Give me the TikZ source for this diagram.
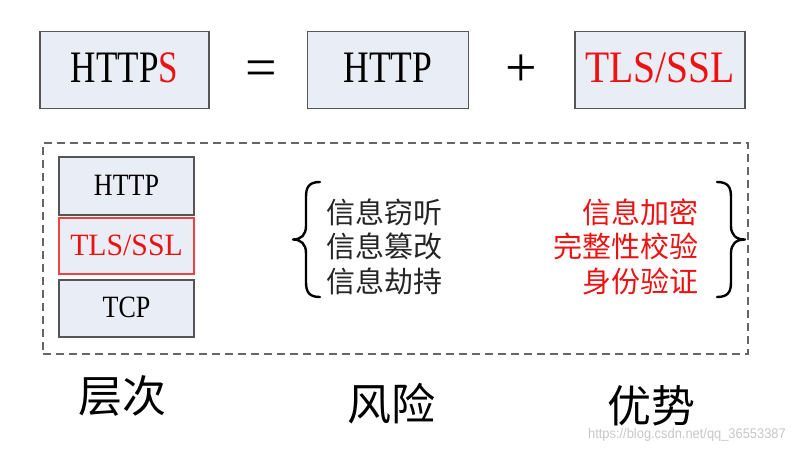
\documentclass[tikz,border=0pt]{standalone}
\usepackage{fontspec}
\setmainfont{Liberation Serif}
\newfontfamily\cjk{Noto Sans CJK SC}
\newfontfamily\wmfont{Liberation Sans}
\definecolor{boxfill}{HTML}{E9EDF5}
\definecolor{boxline}{HTML}{555555}
\definecolor{hired}{HTML}{EE1111}
\definecolor{dashgray}{HTML}{666666}
\begin{document}
\begin{tikzpicture}[x=1pt,y=-1pt,
  topbox/.style={draw=boxline, fill=boxfill, line width=1.4pt, inner sep=0pt,
     minimum height=77pt, text height=29.5pt, text depth=5.5pt,
     font=\fontsize{45}{50}\selectfont},
  stackbox/.style={draw=boxline, fill=boxfill, line width=1.4pt, inner sep=0pt,
     minimum width=135pt, text height=20.3pt, text depth=2pt,
     font=\fontsize{31}{36}\selectfont},
  redstack/.style={stackbox, draw=hired!80, line width=1.2pt, text=hired},
  opsign/.style={inner sep=0pt, anchor=base, font=\fontsize{56}{60}\selectfont},
  risk/.style={inner sep=0pt, anchor=base west, font=\cjk\fontsize{29}{34}\selectfont, text=black!85},
  gain/.style={inner sep=0pt, anchor=base east, font=\cjk\fontsize{29}{34}\selectfont, text=hired},
  caption/.style={inner sep=0pt, anchor=base, font=\cjk\fontsize{44}{48}\selectfont},
  brace/.style={draw=black, line width=2.4pt, line cap=round, line join=round}
]
\useasboundingbox (0,0) rectangle (795,448);

% top equation
\node[topbox, minimum width=169pt] (https) at (124.5,70) {\scalebox{0.78}[1]{HTTP\textcolor{hired}{S}}};
\node[opsign] (eq) at (261,86) {=};
\node[topbox, minimum width=161pt] (http) at (388,70) {\scalebox{0.79}[1]{HTTP}};
\node[opsign] (plus) at (521,86) {+};
\node[topbox, minimum width=170pt, text=hired] (tls) at (660,70) {\scalebox{0.88}[1]{TLS/SSL}};

% dashed frame
\node[draw=dashgray, line width=1.4pt, dash pattern=on 8pt off 5pt, inner sep=0pt,
      minimum width=705pt, minimum height=211pt] (frame) at (395.5,248.5) {};

% layer stack
\node[stackbox, minimum height=58pt] (lhttp) at (126.5,186) {\scalebox{0.84}[1]{HTTP}};
\node[redstack, minimum height=56pt] (ltls) at (126.5,246) {\scalebox{0.96}[1]{TLS/SSL}};
\node[stackbox, minimum height=57pt] (ltcp) at (126.5,308.5) {\scalebox{0.84}[1]{TCP}};

% risks
\node[risk] (r1) at (326,223) {信息窃听};
\node[risk] (r2) at (326,257.5) {信息篡改};
\node[risk] (r3) at (326,292) {信息劫持};
\path[brace] (320,182) .. controls (309,182) and (306,187) .. (306,197) -- (306,226)
   .. controls (306,235) and (301,239.5) .. (293,239.5)
   .. controls (301,239.5) and (306,244) .. (306,253) -- (306,282)
   .. controls (306,292) and (309,297) .. (320,297);

% advantages
\node[gain] (g1) at (699,223) {信息加密};
\node[gain] (g2) at (699,257.5) {完整性校验};
\node[gain] (g3) at (699,292) {身份验证};
\path[brace] (717,182) .. controls (728,182) and (731,187) .. (731,197) -- (731,226)
   .. controls (731,235) and (736,239.5) .. (745,239.5)
   .. controls (736,239.5) and (731,244) .. (731,253) -- (731,282)
   .. controls (731,292) and (728,297) .. (717,297);

% captions
\node[caption] (c1) at (122.5,412) {层次};
\node[caption] (c2) at (391,420) {风险};
\node[caption] (c3) at (651,422) {优势};

% watermark
\node[inner sep=0pt, anchor=base east, text=black!22, font=\wmfont\fontsize{14}{16}\selectfont] (wm) at (786,438) {\scalebox{0.92}[1]{https://blog.csdn.net/qq\_36553387}};
\end{tikzpicture}
\end{document}
